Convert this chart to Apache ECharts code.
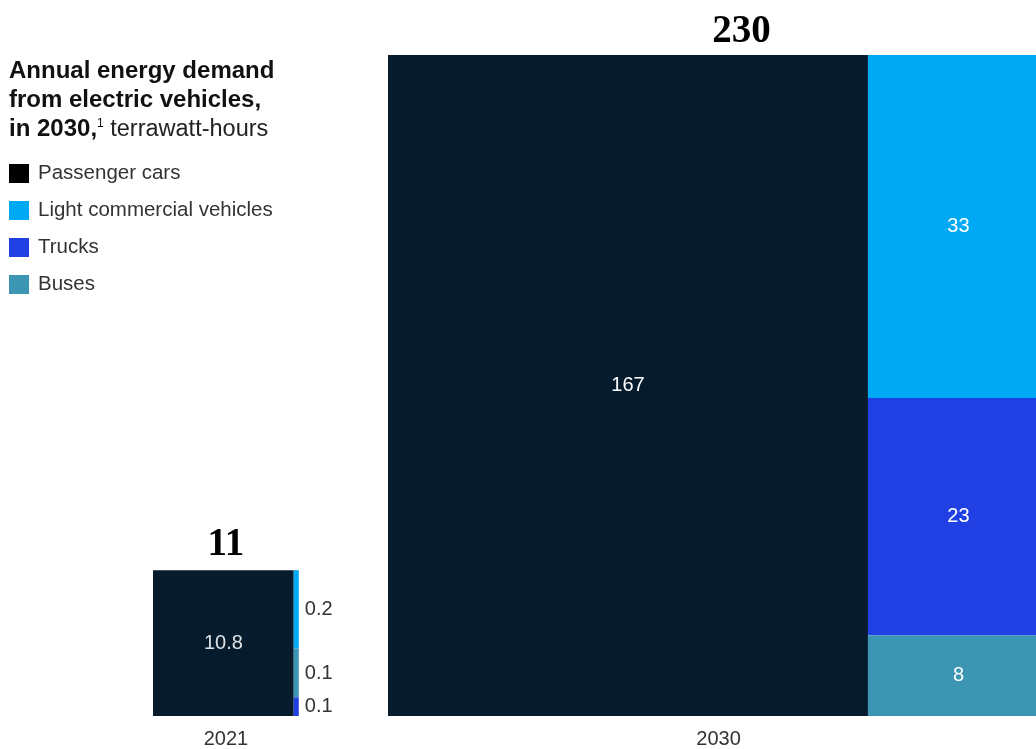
<!DOCTYPE html>
<html>
<head>
<meta charset="utf-8">
<script src="https://cdn.jsdelivr.net/npm/echarts@6/dist/echarts.min.js"></script>
<style>
html,body{margin:0;padding:0;background:#fff;}
#chart{width:1036px;height:749px;}
</style>
</head>
<body>
<div id="chart"></div>
<script>
// ---- data ----
const years = ['2021', '2030'];
const seriesNames = ['Passenger cars', 'Light commercial vehicles', 'Trucks', 'Buses'];
const passengerCars = [10.8, 167];
const lightCommercial = [0.21, 32.7];  // estimated from block size (shown 0.2 / 33)
const trucks = [0.05, 22.6];           // estimated (shown 0.1 / 23)
const buses = [0.13, 7.7];             // estimated (shown 0.1 / 8)
const totalLabels = ['11', '230'];
const passengerLabels = ['10.8', '167'];
const lightCommercialLabels = ['0.2', '33'];
const truckLabels = ['0.1', '23'];
const busLabels = ['0.1', '8'];
// stacking order of the right-hand column, top to bottom
const columnOrder = [
  ['Light commercial vehicles', 'Buses', 'Trucks'],
  ['Light commercial vehicles', 'Trucks', 'Buses']
];

// ---- styling / layout constants ----
const colors = {
  'Passenger cars': '#061c2c',
  'Light commercial vehicles': '#00a9f4',
  'Trucks': '#2140e3',
  'Buses': '#3b95b3'
};
const GAP = 2.047;           // gap between squares in value units
const GRID_LEFT = 153, GRID_TOP = 55, GRID_H = 661;
const FONT = '"Liberation Sans", Arial, Helvetica, sans-serif';
const SERIF = '"Liberation Serif", "Times New Roman", serif';
const totalDx = [0, 23];

const valuesByName = {
  'Passenger cars': passengerCars,
  'Light commercial vehicles': lightCommercial,
  'Trucks': trucks,
  'Buses': buses
};
const labelsByName = {
  'Passenger cars': passengerLabels,
  'Light commercial vehicles': lightCommercialLabels,
  'Trucks': truckLabels,
  'Buses': busLabels
};

// layout of squares (area proportional to total)
const sums = years.map((_, i) => seriesNames.reduce((s, n) => s + valuesByName[n][i], 0));
const sides = sums.map(s => Math.sqrt(s));
const lefts = [];
sides.forEach((s, i) => { lefts.push(i === 0 ? 0 : lefts[i - 1] + sides[i - 1] + GAP); });
const xMax = lefts[lefts.length - 1] + sides[sides.length - 1];
const yMax = Math.max(...sides);
const gridW = xMax * GRID_H / yMax;

// rectangles per series: [x0, y0, x1, y1, yearIndex]
const rects = {};
seriesNames.forEach(n => rects[n] = []);
years.forEach((_, i) => {
  const side = sides[i], x0 = lefts[i];
  const pcW = side * passengerCars[i] / sums[i];
  rects['Passenger cars'].push([x0, 0, x0 + pcW, side, i]);
  const colSum = columnOrder[i].reduce((s, n) => s + valuesByName[n][i], 0);
  let top = side;
  columnOrder[i].forEach(n => {
    const h = side * valuesByName[n][i] / colSum;
    rects[n].push([x0 + pcW, top - h, x0 + side, top, i]);
    top -= h;
  });
});

function makeRender(name) {
  return function (params, api) {
    const yi = api.value(4);
    const p0 = api.coord([api.value(0), api.value(3)]);
    const p1 = api.coord([api.value(2), api.value(1)]);
    const w = p1[0] - p0[0], h = p1[1] - p0[1];
    const inside = w > 30;
    const isSmallPc = name === 'Passenger cars' && yi === 0;
    return {
      type: 'rect',
      shape: { x: p0[0], y: p0[1], width: w, height: h },
      style: { fill: api.visual('color') },
      textContent: {
        style: {
          text: labelsByName[name][yi],
          fill: inside ? (isSmallPc ? '#dde2e6' : '#ffffff') : '#333333',
          font: '20px ' + FONT
        }
      },
      textConfig: { position: inside ? 'inside' : 'right', distance: 6 }
    };
  };
}

const series = seriesNames.map(n => ({
  name: n,
  type: 'custom',
  coordinateSystem: 'cartesian2d',
  itemStyle: { color: colors[n] },
  renderItem: makeRender(n),
  data: rects[n],
  silent: true
}));

// totals and year labels
series.push({
  name: 'labels',
  type: 'custom',
  coordinateSystem: 'cartesian2d',
  silent: true,
  data: years.map((_, i) => [lefts[i] + sides[i] / 2, sides[i], i]),
  renderItem: function (params, api) {
    const i = api.value(2);
    const top = api.coord([api.value(0), api.value(1)]);
    const bot = api.coord([api.value(0), 0]);
    return {
      type: 'group',
      children: [
        { type: 'text', x: top[0] + totalDx[i], y: top[1] - (i === 0 ? 6 : 4),
          style: { text: totalLabels[i], fill: '#000', font: 'bold 39px ' + SERIF,
                   align: 'center', verticalAlign: 'bottom' } },
        { type: 'text', x: bot[0], y: bot[1] + 23,
          style: { text: years[i], fill: '#333', font: '20px ' + FONT,
                   align: 'center', verticalAlign: 'middle' } }
      ]
    };
  }
});

const chart = echarts.init(document.getElementById('chart'));
chart.setOption({
  animation: false,
  backgroundColor: '#ffffff',
  title: {
    left: 4, top: 52,
    text: '{b|Annual energy demand}\n{b|from electric vehicles,}\n{b|in 2030,}{sup|1}{r| terrawatt-hours}',
    textStyle: {
      rich: {
        b: { fontFamily: FONT, fontWeight: 'bold', fontSize: 24, color: '#111', lineHeight: 29 },
        sup: { fontFamily: FONT, fontWeight: 'normal', fontSize: 12, color: '#111', lineHeight: 29, padding: [0, 0, 12, 0] },
        r: { fontFamily: FONT, fontWeight: 'normal', fontSize: 23.5, color: '#222', lineHeight: 29 }
      }
    }
  },
  legend: {
    orient: 'vertical',
    left: 4, top: 158,
    itemWidth: 20, itemHeight: 19, itemGap: 16,
    icon: 'rect',
    selectedMode: false,
    data: seriesNames.map(n => n === 'Passenger cars' ? { name: n, itemStyle: { color: '#000' } } : { name: n }),
    textStyle: { fontFamily: FONT, fontSize: 20.5, color: '#333', padding: [0, 0, 0, 4], lineHeight: 21 }
  },
  grid: { left: GRID_LEFT, top: GRID_TOP, width: gridW, height: GRID_H, outerBoundsMode: 'none', containLabel: false },
  xAxis: { type: 'value', min: 0, max: xMax, show: false },
  yAxis: { type: 'value', min: 0, max: yMax, show: false },
  series: series
});
</script>
</body>
</html>
